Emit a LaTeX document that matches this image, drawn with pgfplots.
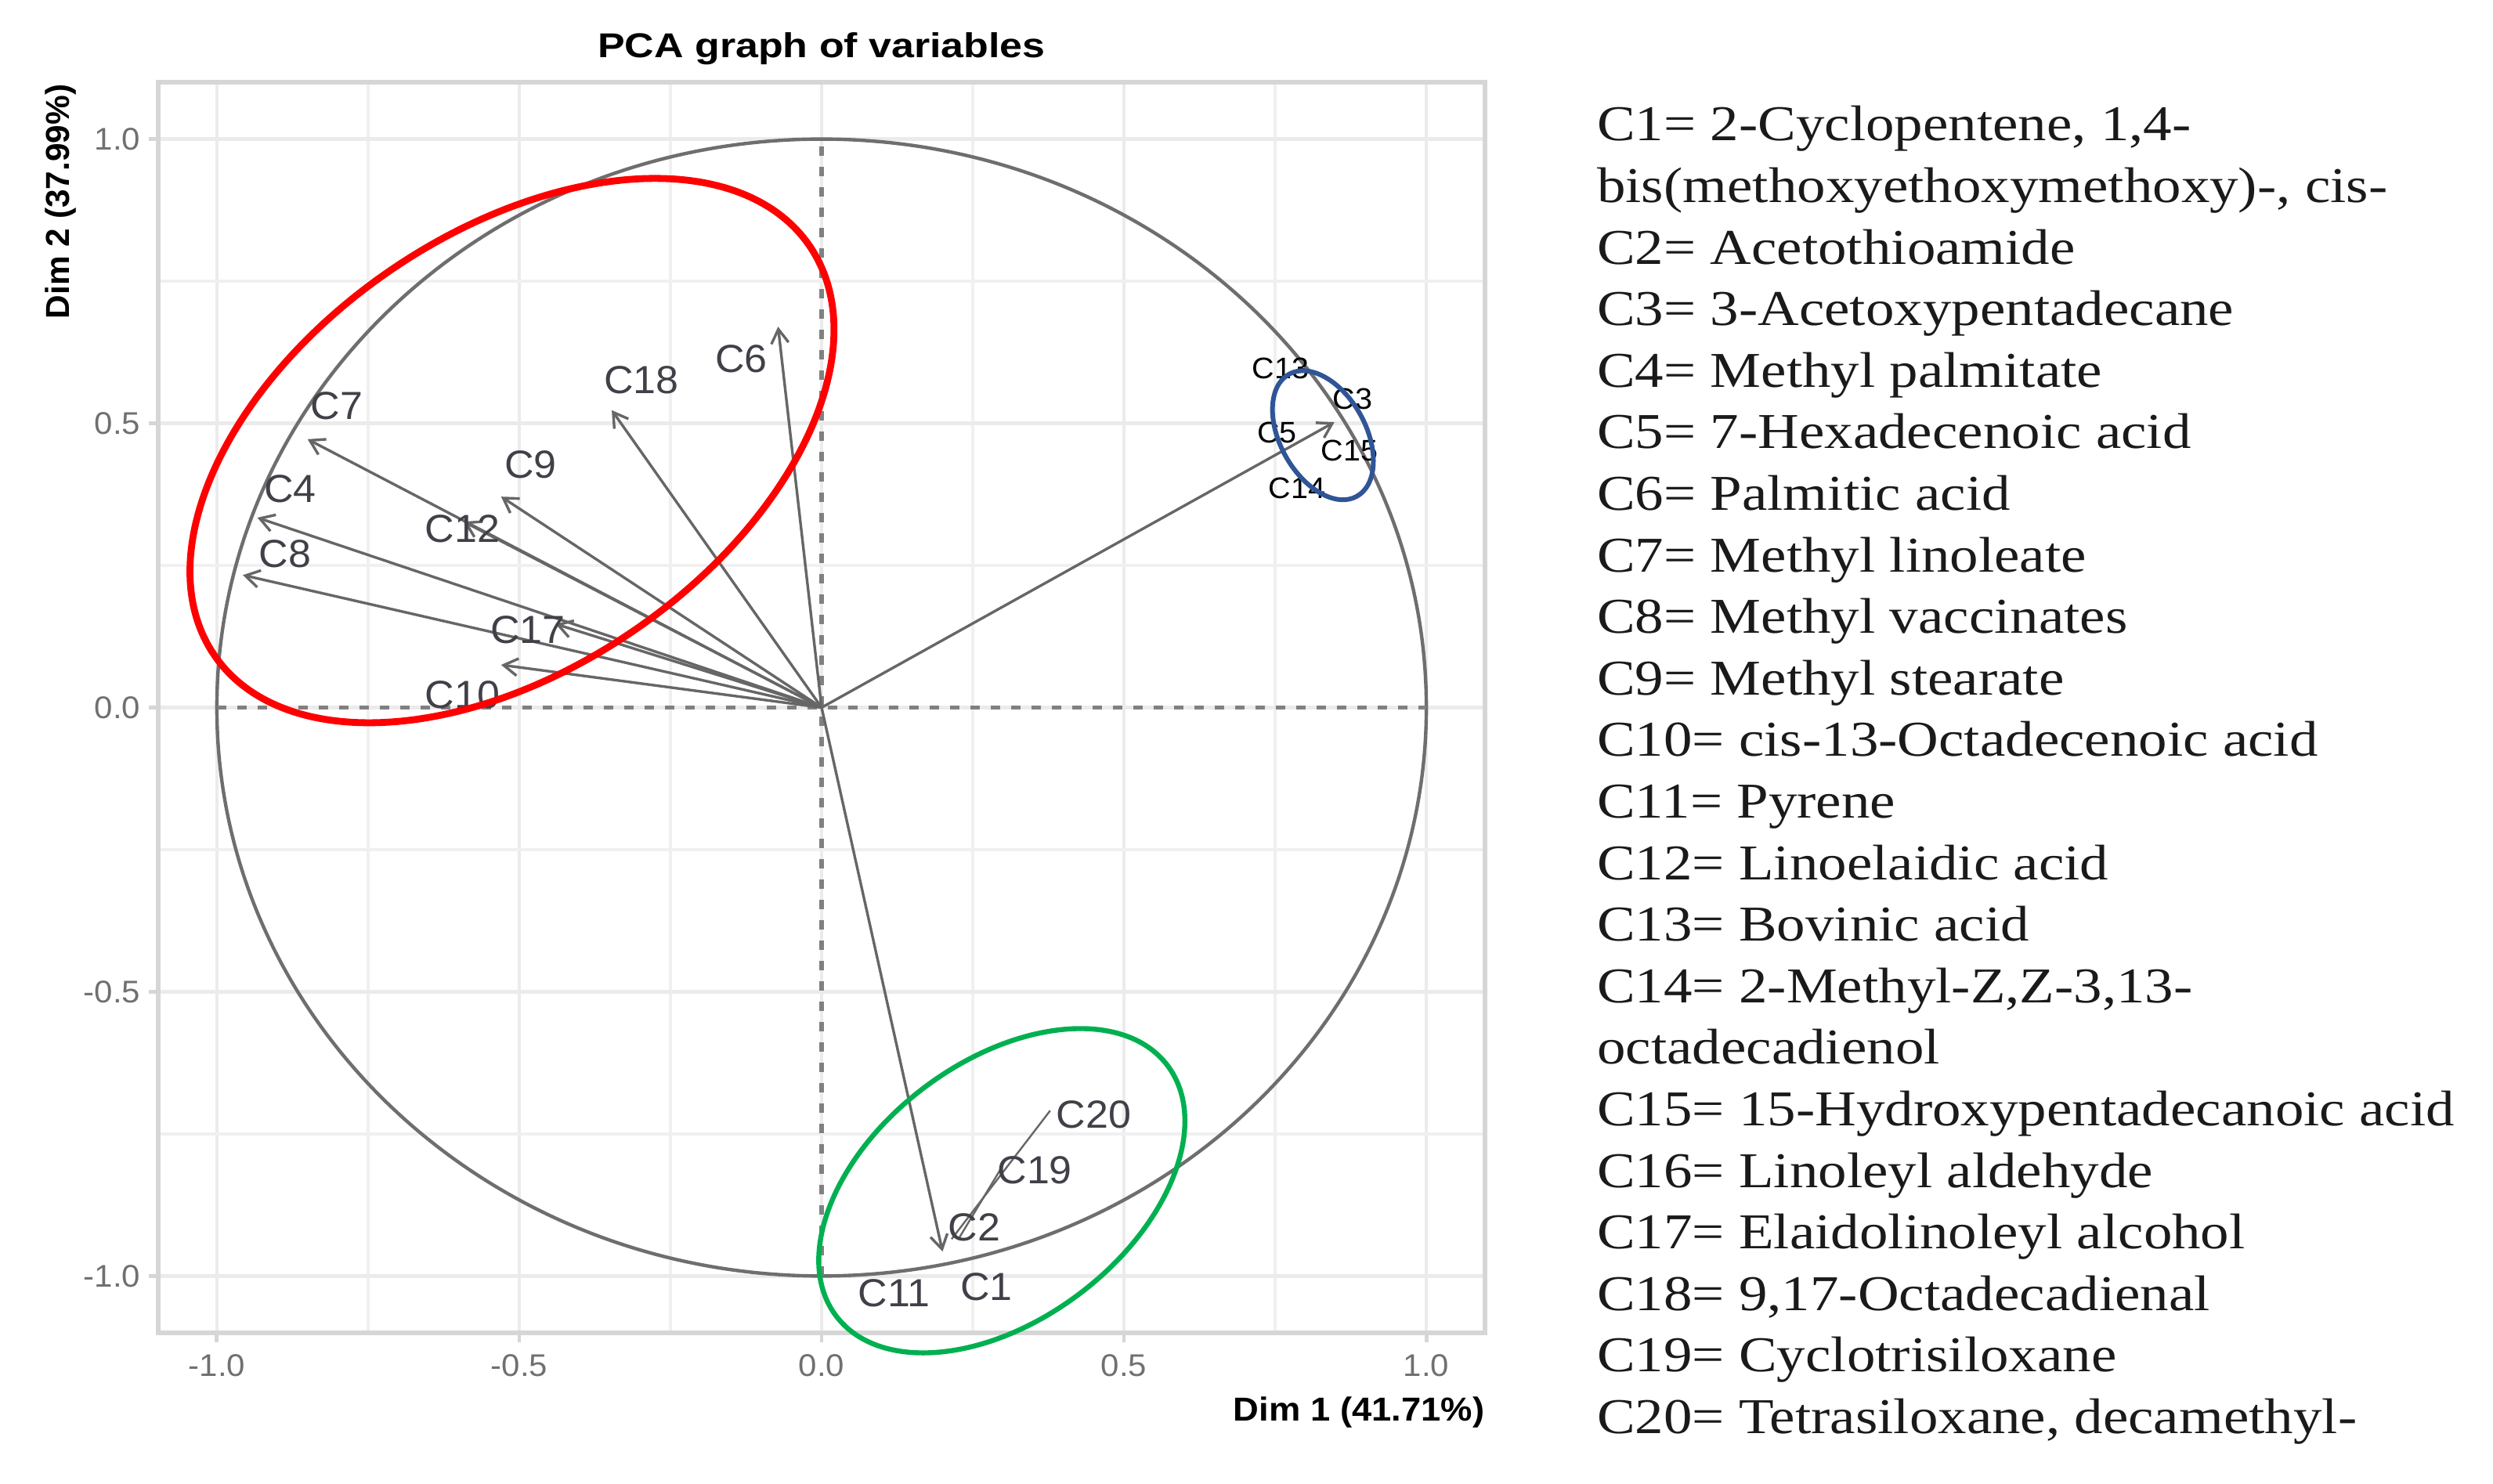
\documentclass[border=0pt]{standalone}
\usepackage{fontspec}
\setmainfont{Liberation Sans}
\newfontfamily\titlef{Liberation Sans}[FakeStretch=1.18]
\newfontfamily\axlabf{Liberation Sans}[FakeStretch=1.07]
\newfontfamily\ylabf{Liberation Sans}
\newfontfamily\tickf{Liberation Sans}[FakeStretch=1.05]
\newfontfamily\labf{Liberation Sans}[FakeStretch=1.04]
\newfontfamily\legf{Liberation Serif}[FakeStretch=1.14]
\usepackage{pgfplots}
\pgfplotsset{compat=1.18}
\usepackage{pgfplotstable}
\usetikzlibrary{arrows.meta}
\definecolor{gridc}{HTML}{EBEBEB}
\definecolor{minorc}{HTML}{F0F0F0}
\definecolor{borderc}{HTML}{D6D6D6}
\definecolor{tickc}{HTML}{707070}
\definecolor{arrowc}{HTML}{666666}
\definecolor{circc}{HTML}{6E6E6E}
\definecolor{dashc}{HTML}{808080}
\definecolor{labc}{HTML}{404048}
\definecolor{ellred}{HTML}{FF0000}
\definecolor{ellgreen}{HTML}{00B050}
\definecolor{ellblue}{HTML}{2F5597}
\definecolor{legc}{HTML}{1A1A1A}

\pgfplotstableread{
x0 y0 u v
0 0 -0.850 0.472
0 0 -0.933 0.334
0 0 -0.957 0.233
0 0 -0.530 0.371
0 0 -0.592 0.327
0 0 -0.440 0.147
0 0 -0.530 0.075
0 0 -0.347 0.523
0 0 -0.072 0.670
0 0 0.848 0.502
0 0 0.200 -0.957
}\arrowtab

\pgfplotstableread{
x y lab
-0.802 0.530 C7
-0.879 0.384 C4
-0.887 0.270 C8
-0.481 0.428 C9
-0.594 0.314 C12
-0.486 0.136 C17
-0.594 0.023 C10
-0.298 0.576 C18
-0.133 0.613 C6
0.450 -0.716 C20
0.3525 -0.8135 C19
0.2525 -0.914 C2
0.2725 -1.019 C1
0.120 -1.030 C11
}\labtab

\pgfplotstableread{
x y lab
0.759 0.597 C13
0.878 0.543 C3
0.753 0.484 C5
0.873 0.452 C15
0.786 0.386 C14
}\smalltab

\begin{document}
\begin{tikzpicture}
\useasboundingbox (0,0) rectangle (795.75pt,473.75pt);
\begin{axis}[
  at={(50.5pt,48.25pt)}, anchor=south west,
  scale only axis, width=423.5pt, height=399.25pt,
  xmin=-1.097, xmax=1.097, ymin=-1.1, ymax=1.1,
  xtick={-1,-0.5,0,0.5,1}, ytick={-1,-0.5,0,0.5,1},
  minor xtick={-0.75,-0.25,0.25,0.75}, minor ytick={-0.75,-0.25,0.25,0.75},
  xticklabels={-1.0,-0.5,0.0,0.5,1.0}, yticklabels={-1.0,-0.5,0.0,0.5,1.0},
  grid=both,
  major grid style={draw=gridc, line width=1.1pt},
  minor grid style={draw=minorc, line width=1.0pt},
  axis line style={draw=borderc, line width=1.5pt},
  tick align=outside, major tick length=3pt, minor tick length=0pt,
  tick style={draw=borderc, line width=1.2pt},
  xtick pos=bottom, ytick pos=left,
  xticklabel style={font=\tickf\fontsize{10}{12}\selectfont, text=tickc, anchor=center, inner sep=0pt, yshift=-7.5pt},
  yticklabel style={font=\tickf\fontsize{10}{12}\selectfont, text=tickc, anchor=east, inner sep=0pt, xshift=-2.5pt},
  clip=false,
]
\draw[circc, line width=1.1pt] (axis cs:0,0) ellipse [x radius=1, y radius=1];
\addplot[dashc, line width=1.3pt, dash pattern=on 3pt off 3.5pt] coordinates {(-1,0) (1,0)};
\addplot[dashc, line width=1.3pt, dash pattern=on 3pt off 3.5pt] coordinates {(0,-1) (0,1)};
\addplot[arrowc, line width=0.85pt, -{Straight Barb[length=4.5pt,width=5.5pt]}, quiver={u=\thisrow{u}, v=\thisrow{v}}] table[x=x0, y=y0] {\arrowtab};
\addplot[arrowc, line width=0.6pt] coordinates {(0.378,-0.709) (0.215,-0.935)};
\addplot[arrowc, line width=0.6pt] coordinates {(0.296,-0.812) (0.228,-0.932)};
\addplot[draw=none, mark=none, nodes near coords, point meta=explicit symbolic,
  nodes near coords style={anchor=center, inner sep=0pt, font=\labf\fontsize{12.5}{14}\selectfont, text=labc}]
  table[x=x, y=y, meta=lab] {\labtab};
\addplot[draw=none, mark=none, nodes near coords, point meta=explicit symbolic,
  nodes near coords style={anchor=center, inner sep=0pt, font=\labf\fontsize{9.5}{11}\selectfont, text=black}]
  table[x=x, y=y, meta=lab] {\smalltab};
\coordinate (rc) at (axis cs:-0.512,0.452);
\coordinate (bc) at (axis cs:0.829,0.479);
\coordinate (gc) at (axis cs:0.298,-0.850);
\end{axis}
\begin{scope}[shift={(rc)}, rotate=34.6]
\draw[ellred, line width=2.2pt] (0,0) ellipse [x radius=115.3pt, y radius=69.4pt];
\end{scope}
\begin{scope}[shift={(bc)}, rotate=-61]
\draw[ellblue, line width=1.5pt] (0,0) ellipse [x radius=22.3pt, y radius=13.65pt];
\end{scope}
\begin{scope}[shift={(gc)}, rotate=37.1]
\draw[ellgreen, line width=1.6pt] (0,0) ellipse [x radius=66.3pt, y radius=41.2pt];
\end{scope}
\node[anchor=base, inner sep=0pt, font=\titlef\bfseries\fontsize{11}{13}\selectfont] at (262.25pt,455.4pt) {PCA graph of variables};
\node[anchor=base east, inner sep=0pt, font=\axlabf\bfseries\fontsize{10.6}{12}\selectfont] at (474pt,20pt) {Dim 1 (41.71\%)};
\node[anchor=base, rotate=90, inner sep=0pt, font=\ylabf\bfseries\fontsize{10.6}{12}\selectfont] at (22pt,409.4pt) {Dim 2 (37.99\%)};
\foreach \t [count=\i from 0] in {
{C1= 2-Cyclopentene, 1,4-},
{bis(methoxyethoxymethoxy)-, cis-},
{C2= Acetothioamide},
{C3= 3-Acetoxypentadecane},
{C4= Methyl palmitate},
{C5= 7-Hexadecenoic acid},
{C6= Palmitic acid},
{C7= Methyl linoleate},
{C8= Methyl vaccinates},
{C9= Methyl stearate},
{C10= cis-13-Octadecenoic acid},
{C11= Pyrene},
{C12= Linoelaidic acid},
{C13= Bovinic acid},
{C14= 2-Methyl-Z,Z-3,13-},
{octadecadienol},
{C15= 15-Hydroxypentadecanoic acid},
{C16= Linoleyl aldehyde},
{C17= Elaidolinoleyl alcohol},
{C18= 9,17-Octadecadienal},
{C19= Cyclotrisiloxane},
{C20= Tetrasiloxane, decamethyl-}}
{\node[anchor=base west, inner sep=0pt, text=legc, font=\legf\fontsize{16}{19}\selectfont] at ({509.6pt},{428.75pt-\i*19.65pt}) {\t};}
\end{tikzpicture}
\end{document}
